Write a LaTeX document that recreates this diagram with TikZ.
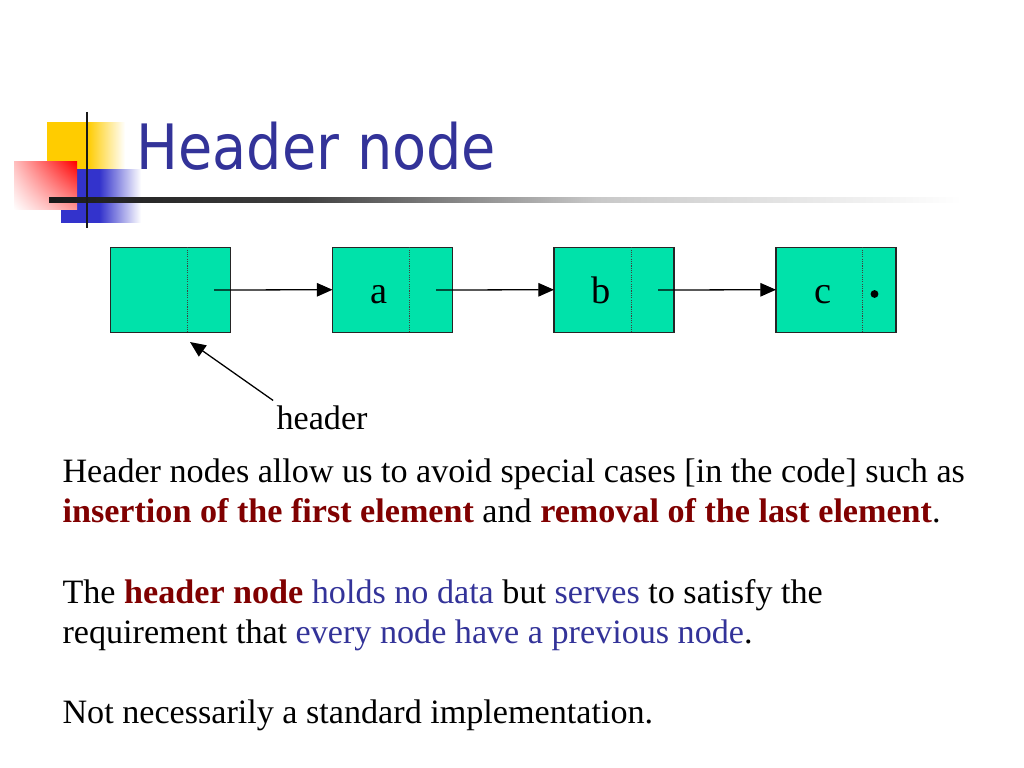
\documentclass[tikz,border=0pt]{standalone}
\usepackage{fontspec}
\setmainfont{Liberation Serif}
\newfontfamily\titlefont[FakeStretch=0.89]{DejaVu Sans}
\usetikzlibrary{arrows.meta, shadings}

\definecolor{cellgreen}{RGB}{0,226,170}
\definecolor{titleblue}{RGB}{51,51,153}
\definecolor{keyred}{RGB}{128,0,0}
\definecolor{decoyellow}{RGB}{255,204,0}
\definecolor{decoblue}{RGB}{51,51,204}
\definecolor{rulegray}{RGB}{200,200,200}

% fades for the slide ornament
\pgfdeclarehorizontalshading{yellowfade}{100bp}{color(0bp)=(decoyellow); color(25bp)=(decoyellow); color(51bp)=(decoyellow); color(75bp)=(white); color(100bp)=(white)}
\pgfdeclarehorizontalshading{bluefade}{100bp}{color(0bp)=(decoblue); color(25bp)=(decoblue); color(49bp)=(decoblue); color(75bp)=(white); color(100bp)=(white)}
\pgfdeclarehorizontalshading{rulefade}{100bp}{color(0bp)=(black); color(25bp)=(black!90); color(39bp)=(black!75); color(55bp)=(rulegray); color(75bp)=(white); color(100bp)=(white)}

\newcommand{\keyword}[1]{\textcolor{keyred}{\textbf{#1}}}
\newcommand{\notion}[1]{\textcolor{titleblue}{#1}}

\begin{document}
\begin{tikzpicture}[x = 0.703125pt, y = -0.703125pt, thick]
\tikzstyle{cell} = [shape = rectangle, draw = black!85, fill = cellgreen, line width = 0.9pt, minimum width = 84.4pt, minimum height = 59.8pt, inner sep = 0pt, outer sep = 0pt]
\tikzstyle{divider} = [line width = 0.6pt, black!75, dash pattern = on 0.8pt off 0.8pt]
\tikzstyle{link} = [-{Triangle[length = 11pt, width = 9.5pt]}, line width = 0.9pt]
\tikzstyle{body} = [anchor = base west, inner sep = 0pt, font = \fontsize{24}{28}\selectfont]
\tikzstyle{datum} = [anchor = base, inner sep = 0pt, font = \fontsize{27}{30}\selectfont]
\useasboundingbox[fill = white] (0, 0) rectangle (1024, 768);
% ornament
\shade[shading = yellowfade] (47, 123) rectangle (125, 172);
\shade[shading = bluefade] (61, 170) rectangle (141, 223);
\shade[upper right = red, upper left = red!25, lower left = white, lower right = red!40] (14, 162) rectangle (77, 210);
\shade[shading = rulefade] (49, 198) rectangle (962, 203);
\draw[line width = 2.1pt, black!90] (87, 112) -- (87, 228);
\node[anchor = base west, inner sep = 0pt, text = titleblue, font = \titlefont\fontsize{44}{48}\selectfont] (title) at (136, 170) {Header node};
% list
\node[cell] (N-0) at (170.5, 289.75) {};
\node[cell] (N-1) at (392.5, 289.75) {};
\node[cell] (N-2) at (614, 289.75) {};
\node[cell] (N-3) at (836, 289.75) {};
\draw[divider] ([xshift = 54.1pt]N-0.north west) -- ([xshift = 54.1pt]N-0.south west);
\draw[divider] ([xshift = 54.1pt]N-1.north west) -- ([xshift = 54.1pt]N-1.south west);
\draw[divider] ([xshift = 54.1pt]N-2.north west) -- ([xshift = 54.1pt]N-2.south west);
\draw[divider] ([xshift = 60.5pt]N-3.north west) -- ([xshift = 60.5pt]N-3.south west);
\node[datum] (D-1) at (379, 303) {a};
\node[datum] (D-2) at (601.5, 303) {b};
\node[datum] (D-3) at (823, 303) {c};
\node[circle, fill = black, inner sep = 0pt, minimum size = 5.5pt] (nil) at (874.5, 294) {};
\coordinate (P-0) at (214, 290);
\coordinate (P-1) at (436, 290);
\coordinate (P-2) at (658, 290);
\draw[link] (P-0) -- (N-1.west);
\draw[link] (P-1) -- (N-2.west);
\draw[link] (P-2) -- (N-3.west);
\node[body] (hdr) at (276, 429) {header};
\coordinate (H-tip) at (190, 342);
\draw[link] ([shift = {(-2pt, 3pt)}]hdr.north west) -- (H-tip);
% text
\node[body] (T-1) at (62, 482) {Header nodes allow us to avoid special cases [in the code] such as};
\node[body] (T-2) at (62, 522) {\keyword{insertion of the first element} and \keyword{removal of the last element}.};
\node[body] (T-3) at (62, 603) {The \keyword{header node} \notion{holds no data} but \notion{serves} to satisfy the};
\node[body] (T-4) at (62, 643) {requirement that \notion{every node have a previous node}.};
\node[body] (T-5) at (62, 723) {Not necessarily a standard implementation.};
\end{tikzpicture}
\end{document}
